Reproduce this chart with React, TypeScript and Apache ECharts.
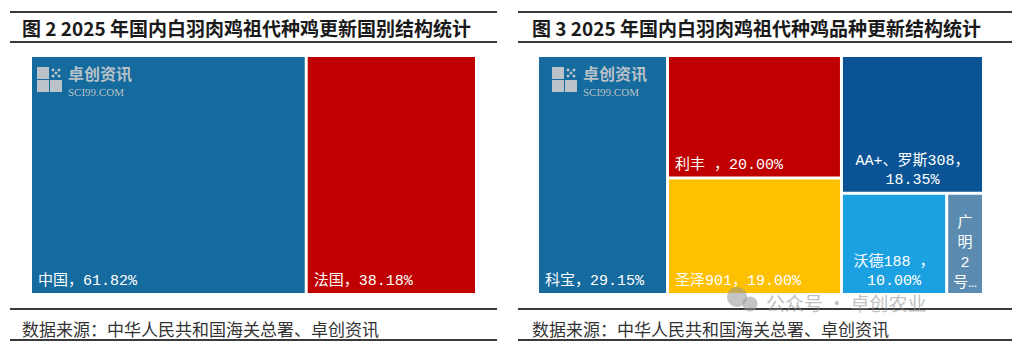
import React, { useEffect, useRef } from 'react';
import * as echarts from 'echarts';

const countryNames = ['中国', '法国'];
const countryValues = [61.82, 38.18];
const breedNames = ['科宝', '利丰 ', '圣泽901', 'AA+、罗斯308', '沃德188 ', '广明2号'];
const breedValues = [29.15, 20.0, 19.0, 18.35, 10.0, 3.5];
const titles = [
  '图 2 2025 年国内白羽肉鸡祖代种鸡更新国别结构统计',
  '图 3 2025 年国内白羽肉鸡祖代种鸡品种更新结构统计',
];
const sourceText = '数据来源：中华人民共和国海关总署、卓创资讯';
const logoCn = '卓创资讯';
const logoEn = 'SCI99.COM';
const watermarkText = '公众号 · 卓创农业';

const countryColors = ['#156a9e', '#c00000'];
const breedColors = ['#156a9e', '#c00000', '#ffc000', '#0a5495', '#1ba1e2', '#5b8bb0'];

const FONT = '"Liberation Mono", "Noto Sans CJK SC", monospace';

function makeLabel(name: string, value: number, mode: string) {
  const pct = value.toFixed(2) + '%';
  if (mode === 'wrap') return { formatter: name + '，\n' + pct, position: 'insideBottom', align: 'center', padding: [0, 0, 2, 0] };
  if (mode === 'vertical')
    return {
      formatter: Array.from(name).slice(0, 4).join('\n') + '…',
      position: 'insideBottom',
      align: 'center',
      padding: [0, 0, 0, 0],
      lineHeight: 20,
    };
  return { formatter: name + '，' + pct };
}

function treemap(names: string[], values: number[], colors: string[], left: number, modes: string[]) {
  return {
    type: 'treemap',
    left,
    top: 57,
    width: 443,
    height: 236,
    roam: false,
    nodeClick: false,
    sort: false,
    squareRatio: 1,
    silent: true,
    breadcrumb: { show: false },
    levels: [{ itemStyle: { gapWidth: 3, borderWidth: 0 } }],
    label: {
      show: true,
      position: 'insideBottomLeft',
      distance: 0,
      padding: [0, 0, 2, 6],
      color: '#ffffff',
      fontSize: 15,
      lineHeight: 19,
      fontFamily: FONT,
    },
    itemStyle: { borderWidth: 0 },
    data: names.map((n, i) => ({
      name: n,
      value: values[i],
      itemStyle: { color: colors[i] },
      label: makeLabel(n, values[i], modes[i]),
    })),
  };
}

function logo(x: number, y: number) {
  const c = 'rgba(205,205,205,0.9)';
  const Z = 100;
  return {
    type: 'group',
    x,
    y,
    z: Z,
    children: [
      { type: 'rect', z: Z, shape: { x: 0, y: 0, width: 12, height: 12 }, style: { fill: c } },
      { type: 'rect', z: Z, shape: { x: 0, y: 13, width: 12, height: 12 }, style: { fill: c } },
      { type: 'rect', z: Z, shape: { x: 13, y: 13, width: 12, height: 12 }, style: { fill: c } },
      { type: 'circle', z: Z, shape: { cx: 16, cy: 3, r: 1.5 }, style: { fill: c } },
      { type: 'circle', z: Z, shape: { cx: 22, cy: 3, r: 1.5 }, style: { fill: c } },
      { type: 'circle', z: Z, shape: { cx: 19, cy: 6, r: 1.5 }, style: { fill: c } },
      { type: 'circle', z: Z, shape: { cx: 16, cy: 9, r: 1.5 }, style: { fill: c } },
      { type: 'circle', z: Z, shape: { cx: 22, cy: 9, r: 1.5 }, style: { fill: c } },
      {
        type: 'text',
        z: Z,
        x: 31,
        y: 6,
        style: {
          text: logoCn,
          fill: c,
          fontSize: 16,
          fontWeight: 'bold',
          fontFamily: '"Noto Sans CJK SC"',
          verticalAlign: 'middle',
        },
      },
      {
        type: 'text',
        z: Z,
        x: 31,
        y: 25,
        style: {
          text: logoEn,
          fill: c,
          fontSize: 11,
          fontFamily: '"Liberation Serif", serif',
          verticalAlign: 'middle',
        },
      },
    ],
  };
}

function frame(x1: number, x2: number, textX: number, title: string) {
  const ln = (y: number) => ({
    type: 'line',
    z: 50,
    shape: { x1, y1: y, x2, y2: y },
    style: { stroke: '#3a3a3a', lineWidth: 2 },
  });
  return [
    ln(12),
    ln(42),
    ln(309),
    ln(340),
    {
      type: 'text',
      z: 50,
      x: textX,
      y: 27,
      style: {
        text: title,
        fill: '#1a1a1a',
        fontSize: 19,
        fontWeight: 'bold',
        fontFamily: '"Noto Sans CJK SC"',
        verticalAlign: 'middle',
      },
    },
    {
      type: 'text',
      z: 50,
      x: textX,
      y: 328,
      style: {
        text: sourceText,
        fill: '#333333',
        fontSize: 17,
        fontFamily: '"Noto Sans CJK SC"',
        verticalAlign: 'middle',
      },
    },
  ];
}

export default function App() {
  const ref = useRef<HTMLDivElement>(null);
  useEffect(() => {
    if (!ref.current) return;
    const chart = echarts.init(ref.current, undefined, { renderer: 'svg' });
    chart.setOption({
      animation: false,
      backgroundColor: '#ffffff',
      series: [
        treemap(countryNames, countryValues, countryColors, 32, ['', '']),
        treemap(breedNames, breedValues, breedColors, 539, ['', '', '', 'wrap', 'wrap', 'vertical']),
      ],
      graphic: [
        ...frame(10, 497, 22, titles[0]),
        ...frame(518, 1012, 532, titles[1]),
        logo(37, 67),
        logo(552, 67),
        { type: 'circle', z: 120, shape: { cx: 737, cy: 297, r: 10 }, style: { fill: 'rgba(150,150,150,0.55)' } },
        { type: 'circle', z: 120, shape: { cx: 750, cy: 304, r: 7.5 }, style: { fill: 'rgba(150,150,150,0.55)' } },
        {
          type: 'text',
          z: 120,
          x: 766,
          y: 302,
          style: {
            text: watermarkText,
            fill: 'rgba(140,140,140,0.55)',
            fontSize: 19,
            fontFamily: '"Noto Sans CJK SC"',
            verticalAlign: 'middle',
          },
        },
      ],
    });
    return () => chart.dispose();
  }, []);
  return <div ref={ref} style={{ position: 'fixed', left: 0, top: 0, width: 1021, height: 353 }} />;
}
